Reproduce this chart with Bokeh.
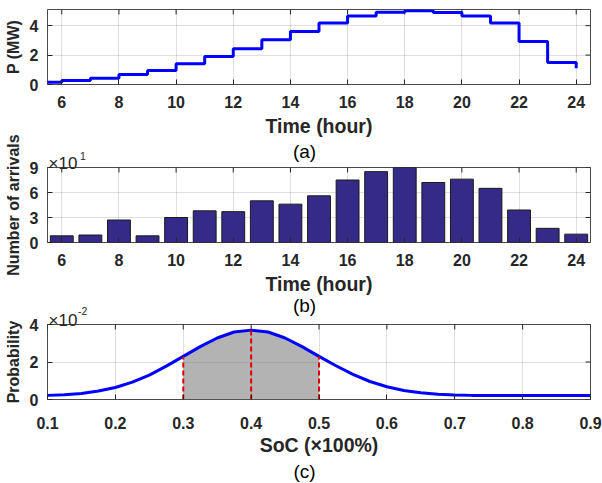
import math
from bokeh.plotting import figure
from bokeh.models import FixedTicker, Range1d, Label
from bokeh.layouts import column
from bokeh.embed import file_html
from bokeh.resources import INLINE

# (a) charging power per hour (MW)
hours_p = [5, 6, 7, 8, 9, 10, 11, 12, 13, 14, 15, 16, 17, 18, 19, 20, 21, 22, 23, 24]
power_mw = [0.15, 0.27, 0.43, 0.68, 0.95, 1.41, 1.91, 2.43, 3.05, 3.61,
            4.18, 4.66, 4.91, 5.02, 4.89, 4.66, 4.18, 2.93, 1.50, 1.10]

# (b) number of EV arrivals per hour
hours_a = [6, 7, 8, 9, 10, 11, 12, 13, 14, 15, 16, 17, 18, 19, 20, 21, 22, 23, 24]
arrivals = [8, 9, 27, 8, 30, 38, 37, 50, 46, 56, 75, 85, 90, 72, 76, 65, 39, 17, 10]

# (c) probability of initial state of charge
soc = [0.100, 0.125, 0.150, 0.175, 0.200, 0.225, 0.250, 0.275, 0.300, 0.325,
       0.350, 0.375, 0.400, 0.425, 0.450, 0.475, 0.500, 0.525, 0.550, 0.575,
       0.600, 0.625, 0.650, 0.675, 0.700, 0.725, 0.750, 0.775, 0.800, 0.825,
       0.850, 0.875, 0.900]
prob = [0.0022, 0.0025, 0.0032, 0.0045, 0.0064, 0.0093, 0.0130, 0.0178, 0.0230, 0.0282,
        0.0328, 0.0360, 0.0370, 0.0360, 0.0328, 0.0282, 0.0230, 0.0180, 0.0134, 0.0096,
        0.0068, 0.0048, 0.0036, 0.0028, 0.0024, 0.0022, 0.0022, 0.0022, 0.0022, 0.0022,
        0.0022, 0.0022, 0.0022]
marker_soc = [0.3, 0.4, 0.5]

hour_ticks = [6, 8, 10, 12, 14, 16, 18, 20, 22, 24]
power_ticks = [0, 2, 4]
arrival_ticks = [0, 30, 60, 90]
soc_ticks = [0.1, 0.2, 0.3, 0.4, 0.5, 0.6, 0.7, 0.8, 0.9]
prob_ticks = [0, 0.02, 0.04]

FONT = "Liberation Sans"
DARK = "#262626"
W, H = 602, 483
FRAME_LEFT, FRAME_RIGHT = 47, 590


def make_fig(height, top, bottom, x_range, y_range, xticks, yticks, overlap=0):
    p = figure(width=W, height=height, output_backend="svg", toolbar_location=None,
               x_range=x_range, y_range=y_range,
               min_border_left=FRAME_LEFT, min_border_right=W - FRAME_RIGHT,
               min_border_top=top, min_border_bottom=bottom)
    if overlap:
        p.margin = (-overlap, 0, 0, 0)
    p.background_fill_color = "white"
    p.border_fill_color = "white"
    p.border_fill_alpha = 0.0
    p.outline_line_color = "#4a4a4a"
    p.outline_line_width = 1
    p.xaxis.ticker = FixedTicker(ticks=xticks)
    p.yaxis.ticker = FixedTicker(ticks=yticks)
    for ax in p.axis:
        ax.major_tick_in = 5
        ax.major_tick_out = 0
        ax.minor_tick_in = 0
        ax.minor_tick_out = 0
        ax.axis_line_color = None
        ax.major_tick_line_color = DARK
        ax.major_label_text_font = FONT
        ax.major_label_text_font_style = "bold"
        ax.major_label_text_font_size = "16px"
        ax.major_label_text_color = DARK
        ax.axis_label_text_font = FONT
        ax.axis_label_text_font_style = "bold"
        ax.axis_label_text_color = DARK
    p.xaxis.major_label_standoff = 11
    p.yaxis.major_label_standoff = 9
    p.xaxis.axis_label_standoff = 4
    p.yaxis.axis_label_standoff = 5
    p.xaxis.axis_label_text_font_size = "19.5px"
    p.yaxis.axis_label_text_font_size = "16px"
    p.grid.grid_line_color = DARK
    p.grid.grid_line_alpha = 0.15
    p.grid.grid_line_width = 1
    # inward ticks mirrored on the top and right edges of the box
    p.scatter(x=xticks, y=[y_range.end] * len(xticks), marker="dash", angle=math.pi / 2,
              size=10, line_color=DARK, line_width=1)
    p.scatter(x=[x_range.end] * len(yticks), y=yticks, marker="dash",
              size=10, line_color=DARK, line_width=1)
    return p


# ---- (a) power staircase ----
p1 = make_fig(166, 9, 82, Range1d(5.5, 24.5), Range1d(0, 5.1), hour_ticks, power_ticks)
p1.xaxis.axis_label = "Time (hour)"
p1.yaxis.axis_label = "P (MW)"
p1.step(hours_p, power_mw, mode="after", line_color="#0000FF", line_width=3)

# ---- (b) arrivals histogram ----
p2 = make_fig(203, 47, 81, Range1d(5.5, 24.5), Range1d(0, 90), hour_ticks, arrival_ticks, overlap=46)
p2.yaxis.major_label_overrides = {t: str(t // 10) for t in arrival_ticks}
p2.xaxis.axis_label = "Time (hour)"
p2.yaxis.axis_label = "Number of arrivals"
p2.vbar(x=hours_a, top=arrivals, width=0.8, bottom=0,
        fill_color="#352A87", line_color="#1a1a1a", line_width=1)

# ---- (c) SoC probability ----
p3 = make_fig(193, 34, 84, Range1d(0.1, 0.9), Range1d(0, 0.04), soc_ticks, prob_ticks, overlap=33)
p3.yaxis.major_label_overrides = {0: "0", 0.02: "2", 0.04: "4"}
p3.xaxis.major_label_standoff = 17
p3.xaxis.axis_label_standoff = 2
p3.xaxis.axis_label = "SoC (×100%)"
p3.yaxis.axis_label = "Probability"

band_x = [s for s in soc if marker_soc[0] - 1e-9 <= s <= marker_soc[-1] + 1e-9]
band_y = [prob[soc.index(s)] for s in band_x]
p3.varea(x=band_x, y1=[0] * len(band_x), y2=band_y, fill_color="#808080", fill_alpha=0.6)
p3.line(soc, prob, line_color="#0000FF", line_width=3)
seg_top = [prob[min(range(len(soc)), key=lambda i: abs(soc[i] - m))] for m in marker_soc]
p3.segment(x0=marker_soc, y0=[0] * 3, x1=marker_soc, y1=seg_top,
           line_color="#E00000", line_width=2, line_dash="5 3")

# ---- transparent page-sized layer for captions and axis multipliers ----
# the column aligns its frame with the panels above, so its x range is given in page pixels
ov = figure(width=W, height=H, output_backend="svg", toolbar_location=None,
            x_range=Range1d(FRAME_LEFT, FRAME_RIGHT), y_range=Range1d(H, 0),
            x_axis_type=None, y_axis_type=None,
            min_border_left=FRAME_LEFT, min_border_right=W - FRAME_RIGHT,
            min_border_top=0, min_border_bottom=0)
ov.margin = (-H, 0, 0, 0)
ov.grid.visible = False
ov.outline_line_color = None
ov.background_fill_alpha = 0.0
ov.border_fill_alpha = 0.0


def put(x, y, s, size, align="left", baseline="alphabetic", color=DARK):
    ov.add_layout(Label(x=x, y=y, text=s, text_font=FONT, text_font_size=size,
                        text_font_style="normal", text_align=align,
                        text_baseline=baseline, text_color=color))


put(304, 151, "(a)", "19px", align="center", baseline="middle", color="black")
put(304, 305, "(b)", "19px", align="center", baseline="middle", color="black")
put(304, 471, "(c)", "19px", align="center", baseline="middle", color="black")
put(48, 163, "×10", "17px")
put(79.5, 155, "1", "10.5px")
put(48, 320, "×10", "17px")
put(77.5, 310, "-2", "10.5px")

layout = column(p1, p2, p3, ov, spacing=0)
open("out.html", "w").write(file_html(layout, INLINE))
